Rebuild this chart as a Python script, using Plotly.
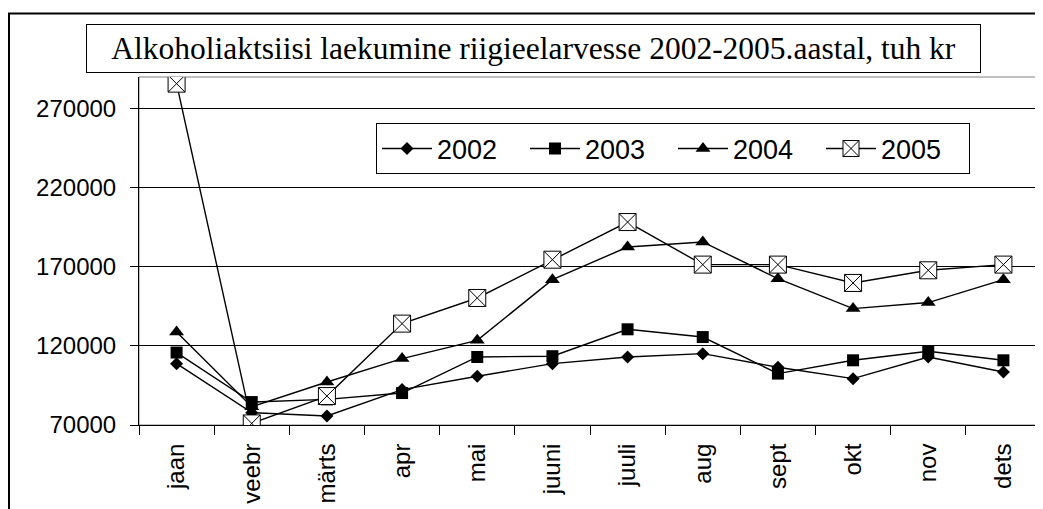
import plotly.graph_objects as go

months = ["jaan", "veebr", "märts", "apr", "mai", "juuni", "juuli", "aug", "sept", "okt", "nov", "dets"]
y2002 = [108800, 77800, 75700, 92400, 100800, 108800, 113000, 115100, 106500, 99300, 113000, 103500]
y2003 = [115800, 84500, 86200, 90200, 113000, 113500, 130500, 125600, 102500, 110900, 116600, 110900]
y2004 = [128800, 81500, 97200, 112000, 123500, 161900, 182500, 185700, 162500, 143600, 147400, 161900]
y2005 = [285800, 71000, 88300, 134100, 150300, 174500, 198300, 171400, 171400, 159800, 167800, 171400]
yticks = [70000, 120000, 170000, 220000, 270000]
title_text = "Alkoholiaktsiisi laekumine riigieelarvesse 2002-2005.aastal, tuh kr"

# page offset (default body margin of the html page)
OX, OY = 8, 8
W, H = 1043 - OX, 509 - OY
L, R, T, B = 139 - OX, 1041 - OX, 76.5 - OY, 424.7 - OY
pw, ph = R - L, B - T

def px(x):
    return (x - OX - L) / pw

def py(y):
    return (B - (y - OY)) / ph

fig = go.Figure()
series = [
    ("2002", y2002, dict(symbol="diamond", size=10, color="black")),
    ("2003", y2003, dict(symbol="square", size=12, color="black")),
    ("2004", y2004, dict(symbol="triangle-up", size=13, color="black")),
    ("2005", y2005, dict(symbol="square-x", size=17, color="white", line=dict(color="black", width=1))),
]
for name, ys, mk in series:
    fig.add_trace(go.Scatter(x=months, y=ys, name=name, mode="lines+markers",
                             line=dict(color="black", width=1.4), marker=mk))

fig.update_layout(
    width=W, height=H,
    margin=dict(l=L, r=W - R, t=T, b=H - B, autoexpand=False),
    paper_bgcolor="white", plot_bgcolor="white",
    font=dict(family="Liberation Sans, Arial", color="black", size=24),
    showlegend=True,
    legend=dict(orientation="h", x=px(376), y=py(123), xanchor="left", yanchor="top",
                bordercolor="black", borderwidth=1, bgcolor="white",
                font=dict(size=27, family="Liberation Sans, Arial"),
                itemwidth=50, entrywidth=83, entrywidthmode="pixels", tracegroupgap=0),
    xaxis=dict(type="category", range=[-0.5, 11.5], showline=True, linecolor="black", linewidth=1,
               ticks="outside", tickson="boundaries", ticklen=9, tickcolor="black",
               tickangle=-90, showgrid=False, tickfont=dict(size=24), ticklabelstandoff=8),
    yaxis=dict(range=[70000, 290000], tickvals=yticks, ticktext=[str(v) for v in yticks],
               showline=True, linecolor="black", linewidth=1, ticks="outside", ticklen=8,
               tickcolor="black", showgrid=True, gridcolor="black", gridwidth=1,
               zeroline=False, tickfont=dict(size=24), ticklabelstandoff=9),
    shapes=[
        dict(type="rect", xref="paper", yref="paper", x0=0, x1=1, y0=0, y1=1,
             line=dict(color="#808080", width=1), layer="below"),
        dict(type="rect", xref="paper", yref="paper", x0=px(9), x1=px(1060), y0=py(530), y1=py(13),
             line=dict(color="black", width=2), layer="above"),
    ],
    annotations=[
        dict(text=title_text, xref="paper", yref="paper", x=px(533.5), y=py(48),
             xanchor="center", yanchor="middle", showarrow=False,
             width=893, height=47, borderpad=0, bordercolor="black", borderwidth=1,
             bgcolor="white", font=dict(family="Liberation Serif, Times New Roman", size=31.5)),
    ],
)

fig.write_html("out.html")
